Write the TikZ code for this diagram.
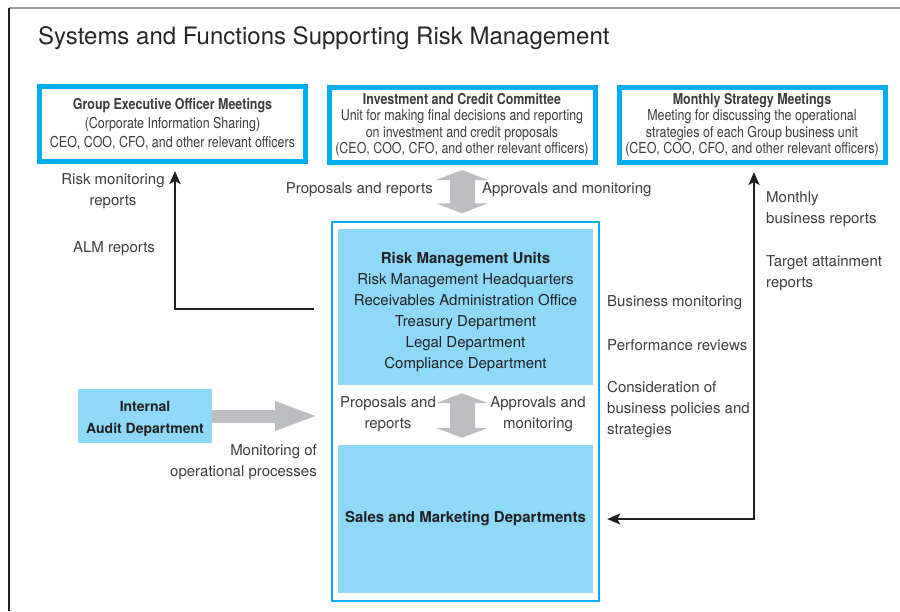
\documentclass[tikz,border=0pt]{standalone}
\usepackage{fontspec}
\setmainfont{TeX Gyre Heros}
\newfontfamily\condensed{TeX Gyre Heros}[FakeStretch=0.83]
\usetikzlibrary{arrows.meta}

\definecolor{boxcyan}{HTML}{00AEEF}
\definecolor{unitblue}{HTML}{8ED8F8}
\definecolor{arrowgray}{HTML}{BCBDC0}
\definecolor{inkgray}{HTML}{3C3C3C}
\definecolor{linedark}{HTML}{231F20}

\begin{document}
\begin{tikzpicture}[x=1pt, y=-1pt,
    every node/.style={text=inkgray, font=\fontsize{15}{21}\selectfont},
    >={Stealth[length=13pt, width=11pt, inset=3pt]},
    topbox/.style={draw=boxcyan, line width=5pt, inner sep=0pt,
      minimum width=266pt, minimum height=75pt, align=center,
      font=\condensed\fontsize{15}{16.3}\selectfont},
    unitbox/.style={fill=unitblue, inner sep=0pt, align=center, text=linedark},
    lbl/.style={align=center, inner sep=0pt, yshift=-2.5pt},
    flow/.style={draw=linedark, line width=2.5pt},
    bigarrow/.style={draw=arrowgray, line width=25pt,
      {Triangle[length=10pt, width=52pt]}-{Triangle[length=10pt, width=52pt]}}]
  \useasboundingbox (0,0) rectangle (900,611);

  % outer frame, open on the right and at the bottom
  \draw[gray!80, line width=1.2pt] (9,8) -- (900,8);
  \draw[linedark, line width=2pt] (9,8) -- (9,611);

  \node[anchor=base west, inner sep=0pt, text=black!85,
    font=\fontsize{24}{28}\selectfont] (title) at (38,44)
    {Systems and Functions Supporting Risk Management};

  % committees on top
  \node[topbox, font=\condensed\fontsize{15}{19}\selectfont] (exec) at (172.5,124)
    {\textbf{Group Executive Officer Meetings}\\(Corporate Information Sharing)\\CEO, COO, CFO, and other relevant officers};
  \node[topbox] (invest) at (462,125)
    {\textbf{Investment and Credit Committee}\\Unit for making final decisions and reporting\\on investment and credit proposals\\(CEO, COO, CFO, and other relevant officers)};
  \node[topbox] (monthly) at (752,125)
    {\textbf{Monthly Strategy Meetings}\\Meeting for discussing the operational\\strategies of each Group business unit\\(CEO, COO, CFO, and other relevant officers)};

  % units and departments
  \node[draw=boxcyan, line width=1.5pt, inner sep=0pt,
    minimum width=267pt, minimum height=379pt] (riskframe) at (465.5,411.5) {};
  \node[unitbox, minimum width=255pt, minimum height=156pt] (units) at (465.5,307) {};
  \node[lbl, text=linedark] (unitlist) at (465.5,309.5)
    {\textbf{Risk Management Units}\\Risk Management Headquarters\\Receivables Administration Office\\Treasury Department\\Legal Department\\Compliance Department};
  \node[unitbox, minimum width=255pt, minimum height=148pt] (sales) at (465.5,519)
    {\textbf{Sales and Marketing Departments}};
  \node[unitbox, minimum width=134pt, minimum height=54pt] (audit) at (145,416) {};
  \node[lbl, text=linedark, font=\fontsize{14}{22}\selectfont] (auditname) at (145,416)
    {\textbf{Internal}\\\textbf{Audit Department}};

  % gray block arrows
  \draw[bigarrow] ([yshift=-5pt]invest.south) -- ([yshift=8pt]invest.south |- riskframe.north);
  \draw[bigarrow] ([xshift=-3.5pt,yshift=-8pt]units.south) -- ([xshift=-3.5pt,yshift=7pt]sales.north);
  \coordinate (auditto) at (319,416);
  \draw[draw=arrowgray, line width=13pt, -{Triangle[length=44pt, width=26pt]}] (audit.east) -- (auditto);

  % reporting lines
  \coordinate (almfrom) at (314,309);
  \draw[flow, ->] (almfrom) -| ([xshift=2.5pt,yshift=-7pt]exec.south);
  \draw[flow, <->] ([xshift=2pt,yshift=-7pt]monthly.south) |- ([xshift=14pt]sales.east);

  % labels
  \node[lbl] (riskrep) at (113,188.5) {Risk monitoring\\reports};
  \node[lbl] (almrep) at (114,246) {ALM reports};
  \node[lbl, anchor=east] (propup) at (433,187) {Proposals and reports};
  \node[lbl, anchor=west] (apprup) at (482,187) {Approvals and monitoring};
  \node[lbl] (propmid) at (388,412) {Proposals and\\reports};
  \node[lbl] (apprmid) at (538,412) {Approvals and\\monitoring};
  \node[lbl, align=right, anchor=east] (monproc) at (317,460) {Monitoring of\\operational processes};
  \node[lbl, align=left, anchor=west] (monthrep) at (766,206.5) {Monthly\\business reports};
  \node[lbl, align=left, anchor=west] (targrep) at (766,270.5) {Target attainment\\reports};
  \node[lbl, anchor=west] (busmon) at (607,300) {Business monitoring};
  \node[lbl, anchor=west] (perfrev) at (607,343) {Performance reviews};
  \node[lbl, align=left, anchor=west] (consid) at (607,407) {Consideration of\\business policies and\\strategies};
\end{tikzpicture}
\end{document}
